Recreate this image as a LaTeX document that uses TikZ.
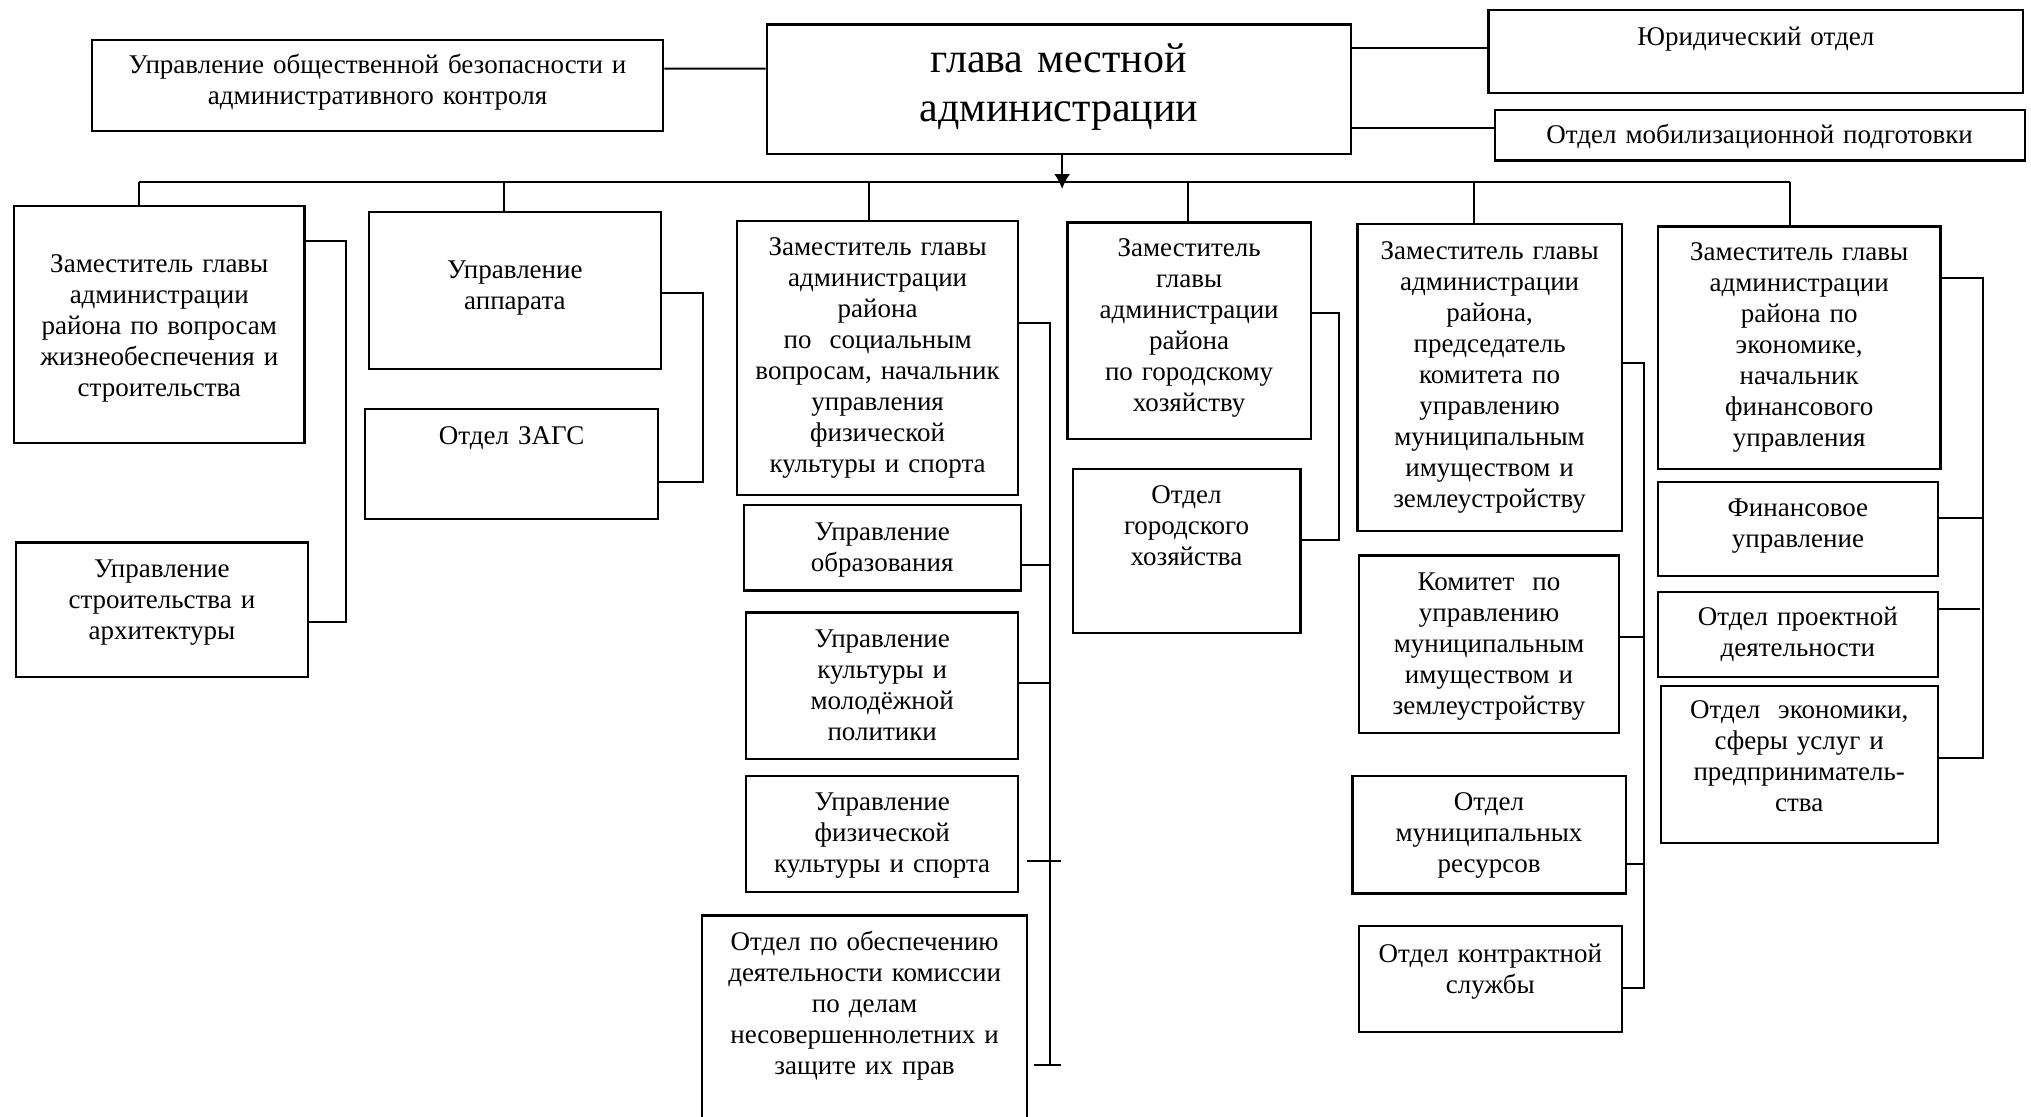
\documentclass[tikz,border=0pt]{standalone}
\usepackage{fontspec}
\setmainfont{Liberation Serif}
\usepackage{tikz}
\usetikzlibrary{calc,arrows.meta}

\begin{document}
\begin{tikzpicture}[x=1pt, y=-1pt,
		box/.style={draw, line width=1.1pt, anchor=north, inner sep=0pt, align=center, font=\fontsize{13.5}{15.5}\selectfont},
		link/.style={line width=1pt},
		bus/.style={line width=1.3pt}]
		%%%%% START %%%%%
		\useasboundingbox (0,0) rectangle (1015.5,558);
		
		% head and its own departments
		\node[box, text width=292.1pt, text height=24.1pt, text depth=40.6pt, font=\fontsize{21}{24.6}\selectfont] (glava) at (529.45,11.7) {глава местной\\администрации};
		\node[box, text width=285.6pt, text height=17pt, text depth=28.4pt] (ubez) at (188.8,19.4) {Управление общественной безопасности и\\административного контроля};
		\node[box, text width=267.4pt, text height=17.5pt, text depth=24pt] (jur) at (877.9,4.5) {Юридический отдел};
		\node[box, text width=264.9pt, text height=17pt, text depth=8.3pt] (mob) at (879.85,54.4) {Отдел мобилизационной подготовки};
		
		\draw[link] ($(ubez.north east)+(0,14.9)$) -- ($(glava.north west)+(0,22.6)$);
		\draw[link] ($(glava.north east)+(0,12.3)$) -- ($(jur.north west)+(0,19.5)$);
		\draw[link] ($(glava.north east)+(0,52.4)$) -- ($(mob.north west)+(0,9.7)$);
		\draw[link, -{Latex[length=7.5pt,width=8pt]}] ($(glava.south)+(1.6,0)$) -- ++(0,17);
		
		% column 1
		\node[box, text width=145.1pt, text height=33.2pt, text depth=85.3pt] (zam1) at (79.65,102.3) {Заместитель главы\\администрации\\района по вопросам\\жизнеобеспечения и\\строительства};
		\node[box, text width=146.3pt, text height=17.6pt, text depth=49.8pt] (ustr) at (80.95,270.7) {Управление\\строительства и\\архитектуры};
		\draw[link] ($(zam1.north east)+(0,18.2)$) -- ++(20.1,0) |- ($(ustr.north east)+(0,40.2)$);
		
		% column 2
		\node[box, text width=145.7pt, text height=33.1pt, text depth=45.2pt] (uapp) at (257.45,105.6) {Управление\\аппарата};
		\node[box, text width=146.4pt, text height=17.6pt, text depth=37.5pt] (zags) at (255.8,204) {Отдел ЗАГС};
		\draw[link] ($(uapp.north east)+(0,40.8)$) -- ++(20.7,0) |- ($(zags.north east)+(0,36.9)$);
		
		% column 3
		\node[box, text width=140.6pt, text height=17pt, text depth=119.7pt] (zam2) at (438.8,110.1) {Заместитель главы\\администрации\\района\\по~ социальным\\вопросам, начальник\\управления\\физической\\культуры и спорта};
		\node[box, text width=138.6pt, text height=17.6pt, text depth=25.2pt] (uobr) at (441.1,251.9) {Управление\\образования};
		\node[box, text width=136pt, text height=17.6pt, text depth=55.6pt] (ukult) at (441.1,305.7) {Управление\\культуры и\\молодёжной\\политики};
		\node[box, text width=136pt, text height=17.6pt, text depth=40.7pt] (usport) at (441.1,387.3) {Управление\\физической\\культуры и спорта};
		\node[box, text width=162.6pt, text height=17.6pt, text depth=87.2pt] (okdn) at (432.3,457.2) {Отдел по обеспечению\\деятельности комиссии\\по делам\\несовершеннолетних и\\защите их прав};
		\draw[link] ($(zam2.north east)+(0,51.2)$) -| ($(okdn.north east)+(11,75.2)$);
		\draw[link] ($(uobr.north east)+(0,30.5)$) -- ++(14.2,0);
		\draw[link] ($(ukult.north east)+(0,35.6)$) -- ++(15.5,0);
		\draw[link] ($(usport.north east)+(3.9,43.4)$) -- ++(16.8,0);
		\draw[link] ($(okdn.north east)+(2.6,75.2)$) -- ++(13.6,0);
		
		% column 4
		\node[box, text width=121.7pt, text height=17pt, text depth=91.2pt] (zam3) at (594.55,110.7) {Заместитель\\главы\\администрации\\района\\по городскому\\хозяйству};
		\node[box, text width=113.9pt, text height=17.6pt, text depth=64.7pt] (ogkh) at (593.25,233.8) {Отдел\\городского\\хозяйства};
		\draw[link] ($(zam3.north east)+(0,46)$) -- ++(13.6,0) |- ($(ogkh.north east)+(0,36.3)$);
		
		% column 5
		\node[box, text width=132.2pt, text height=17.6pt, text depth=135.9pt] (zam4) at (744.8,111.4) {Заместитель главы\\администрации\\района,\\председатель\\комитета по\\управлению\\муниципальным\\имуществом и\\землеустройству};
		\node[box, text width=130.2pt, text height=17.6pt, text depth=71.1pt] (kumi) at (744.5,277.2) {Комитет~ по\\управлению\\муниципальным\\имуществом и\\землеустройству};
		\node[box, text width=136.6pt, text height=17.6pt, text depth=41.3pt] (omr) at (744.5,387.3) {Отдел\\муниципальных\\ресурсов};
		\node[box, text width=131.5pt, text height=18.3pt, text depth=34.8pt] (oks) at (745.15,462.4) {Отдел контрактной\\службы};
		\draw[link] ($(zam4.north east)+(0,69.9)$) -- ++(10.3,0) |- ($(oks.north east)+(0,31.8)$);
		\draw[link] ($(kumi.north east)+(0,41.4)$) -- ++(11.6,0);
		\draw[link] ($(omr.north east)+(0,44.7)$) -- ++(8.4,0);
		
		% column 6
		\node[box, text width=141.2pt, text height=16.9pt, text depth=104.2pt] (zam5) at (899.6,112.7) {Заместитель главы\\администрации\\района по\\экономике,\\начальник\\финансового\\управления};
		\node[box, text width=139.9pt, text height=17.6pt, text depth=29.7pt] (finu) at (898.95,240.3) {Финансовое\\управление};
		\node[box, text width=139.9pt, text height=17pt, text depth=25.8pt] (opd) at (898.95,295.3) {Отдел проектной\\деятельности};
		\node[box, text width=138.6pt, text height=16.3pt, text depth=62.1pt] (oek) at (899.6,342.6) {Отдел~ экономики,\\сферы услуг и\\предприниматель-\\ства};
		\draw[link] ($(zam5.north east)+(0,26.5)$) -- ++(20.7,0) |- ($(oek.north east)+(0,36.3)$);
		\draw[link] ($(finu.north east)+(0,18.8)$) -- ++(22,0);
		\draw[link] ($(opd.north east)+(0,9.1)$) -- ++(20.7,0);
		
		% bus under the head
		\coordinate (bus) at (0,91);
		\draw[link] ($(zam1.north)+(-10.35,0)$) coordinate (t1) -- (t1 |- bus);
		\draw[link] ($(uapp.north)+(-5.55,0)$) coordinate (t2) -- (t2 |- bus);
		\draw[link] ($(zam2.north)+(-4.2,0)$) coordinate (t3) -- (t3 |- bus);
		\draw[link] ($(zam3.north)+(-0.65,0)$) coordinate (t4) -- (t4 |- bus);
		\draw[link] ($(zam4.north)+(-7.8,0)$) coordinate (t5) -- (t5 |- bus);
		\draw[link] ($(zam5.north)+(-4.5,0)$) coordinate (t6) -- (t6 |- bus);
		\draw[bus] (t1 |- bus) -- (t6 |- bus);
		
		%%%%% END %%%%%
	\end{tikzpicture}
\end{document}
